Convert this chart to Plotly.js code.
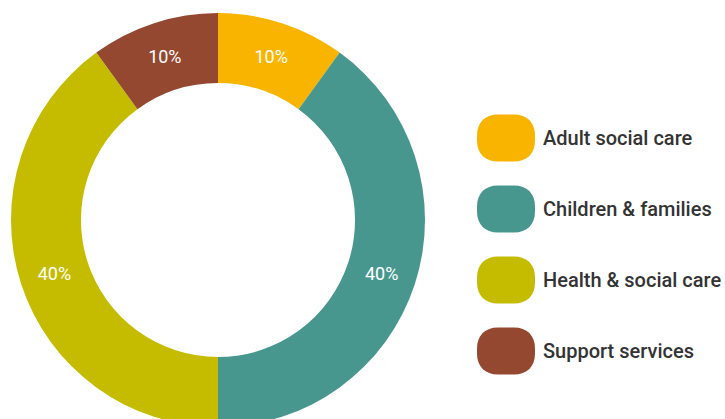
<!DOCTYPE html>
<html>
<head>
<meta charset="utf-8">
<script src="https://cdn.plot.ly/plotly-3.0.1.min.js"></script>
<style>
html,body{margin:0;padding:0;overflow:hidden;background:#fff;}
#chart{width:725px;height:440px;}
</style>
</head>
<body>
<div id="chart"></div>
<script>
const categories = ["Adult social care", "Children & families", "Health & social care", "Support services"];
const values = [10, 40, 40, 10];
const colors = ["#F9B400", "#48978F", "#C5BC00", "#954830"];

const W = 725, H = 440;
const px = x => x / W;
const py = y => 1 - y / H;

const trace = {
  type: "pie",
  labels: categories,
  values: values,
  sort: false,
  direction: "clockwise",
  rotation: 0,
  hole: 0.662,
  marker: {colors: colors, line: {width: 0}},
  textinfo: "percent",
  textposition: "inside",
  insidetextorientation: "horizontal",
  textfont: {family: "Roboto, sans-serif", size: 18, color: "#ffffff", weight: 400},
  hoverinfo: "label+percent",
  showlegend: false,
  domain: {x: [px(11), px(425)], y: [py(427), py(13)]}
};

// custom legend swatches (rounded pills) and labels
const shapes = [];
const annotations = [];
const k = 0.62;
const hw = 29, hh = 23.5, r = 21;
const pill = `M ${-hw + r},${-hh} L ${hw - r},${-hh} C ${hw - r + r*k},${-hh} ${hw},${-hh + r - r*k} ${hw},${-hh + r} ` +
  `L ${hw},${hh - r} C ${hw},${hh - r + r*k} ${hw - r + r*k},${hh} ${hw - r},${hh} ` +
  `L ${-hw + r},${hh} C ${-hw + r - r*k},${hh} ${-hw},${hh - r + r*k} ${-hw},${hh - r} ` +
  `L ${-hw},${-hh + r} C ${-hw},${-hh + r - r*k} ${-hw + r - r*k},${-hh} ${-hw + r},${-hh} Z`;
categories.forEach((c, i) => {
  const cy = 138 + i * 71;
  shapes.push({
    type: "path", xref: "paper", yref: "paper",
    xsizemode: "pixel", ysizemode: "pixel",
    xanchor: px(506), yanchor: py(cy),
    path: pill, fillcolor: colors[i], line: {width: 0}
  });
  annotations.push({
    xref: "paper", yref: "paper", x: px(541), y: py(cy),
    xanchor: "left", yanchor: "middle", showarrow: false,
    text: c.replace("&", "&amp;"),
    font: {family: "Roboto, sans-serif", size: 20, color: "#333333", weight: 500}
  });
});

const layout = {
  width: W, height: H,
  margin: {l: 0, r: 0, t: 0, b: 0},
  paper_bgcolor: "#ffffff",
  plot_bgcolor: "#ffffff",
  showlegend: false,
  shapes: shapes,
  annotations: annotations
};

Plotly.newPlot("chart", [trace], layout, {displayModeBar: false, staticPlot: true});
</script>
</body>
</html>
